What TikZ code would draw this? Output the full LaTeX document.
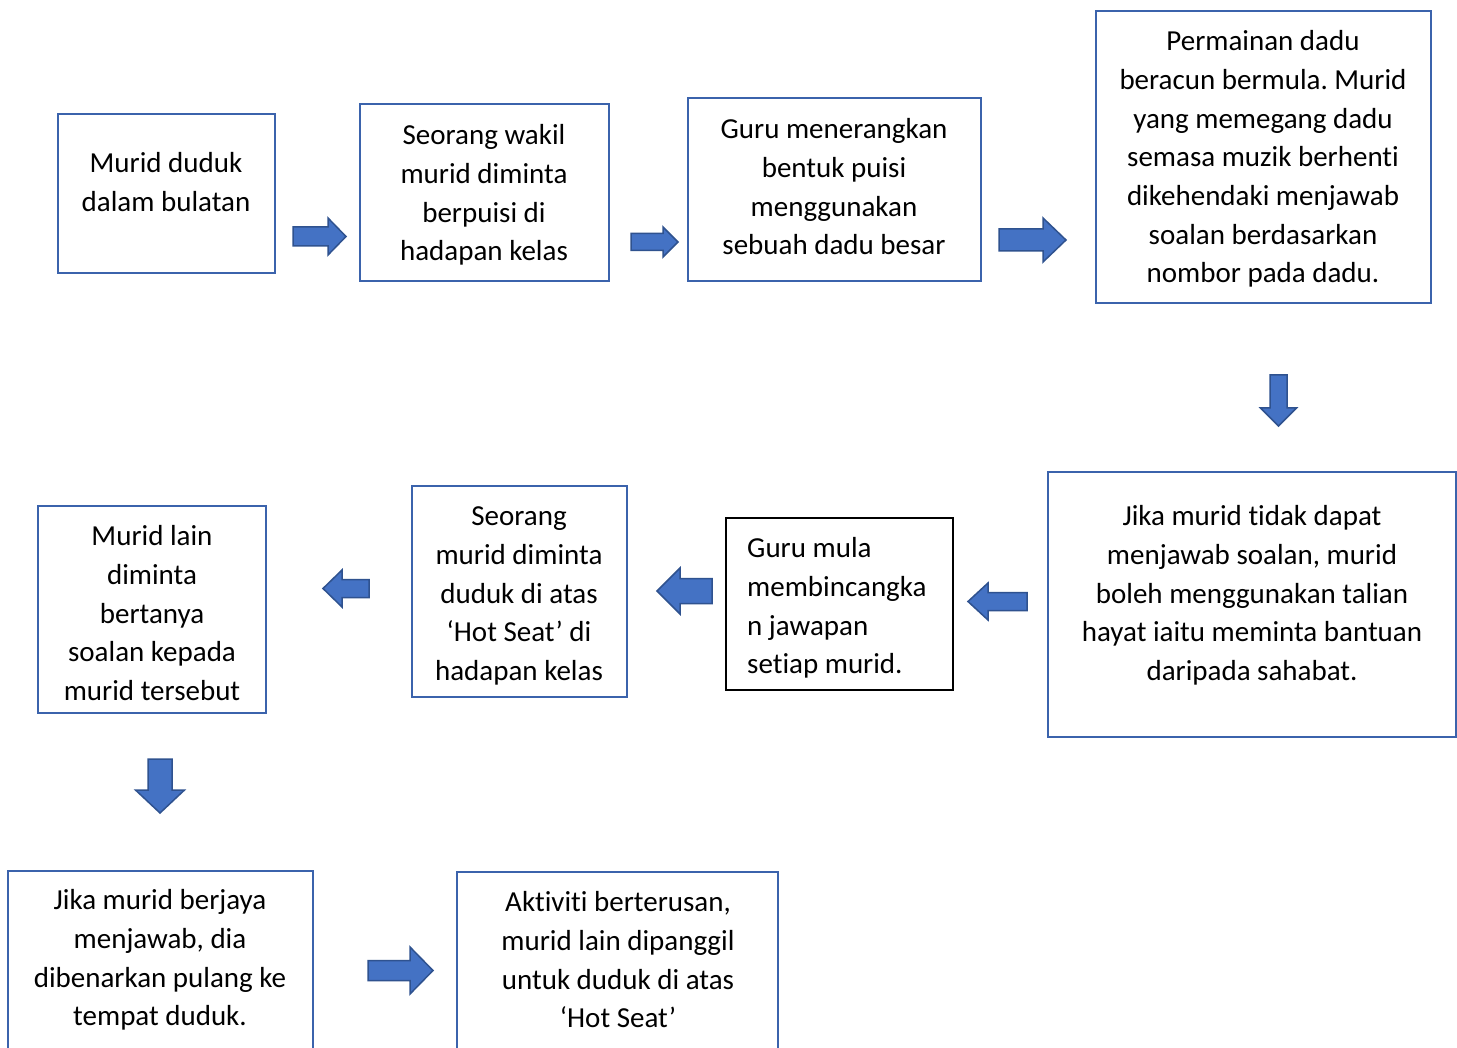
\documentclass[tikz,border=0pt]{standalone}
\usepackage{fontspec}
\setmainfont{Carlito}[Ligatures=NoCommon]
\frenchspacing
\definecolor{boxblue}{HTML}{3B63AC}
\definecolor{arrfill}{HTML}{4472C4}
\definecolor{arrline}{HTML}{2F528F}
\newcommand{\harrow}[6]{% tail x, tip x, head base x, y centre, shaft half, head half
  \draw[arrowshape] ({#1},{#4-#5}) -- ({#3},{#4-#5}) -- ({#3},{#4-#6}) -- ({#2},{#4})
    -- ({#3},{#4+#6}) -- ({#3},{#4+#5}) -- ({#1},{#4+#5}) -- cycle;}
\newcommand{\varrow}[6]{% tail y, tip y, head base y, x centre, shaft half, head half
  \draw[arrowshape] ({#4-#5},{#1}) -- ({#4-#5},{#3}) -- ({#4-#6},{#3}) -- ({#4},{#2})
    -- ({#4+#6},{#3}) -- ({#4+#5},{#3}) -- ({#4+#5},{#1}) -- cycle;}
\begin{document}
\begin{tikzpicture}[x=1pt,y=-1pt,
  box/.style={draw=boxblue, line width=2pt, rectangle, inner sep=0pt, fill=none},
  blackbox/.style={draw=black, line width=1.5pt, rectangle, inner sep=0pt},
  txt/.style={inner sep=0pt, align=center, font=\fontsize{29}{38.67}\selectfont},
  txtl/.style={inner sep=0pt, align=left, font=\fontsize{29}{38.67}\selectfont},
  arrowshape/.style={fill=arrfill, draw=arrline, line width=1.5pt, line join=miter}]
\clip (0,0) rectangle (1457,1048);
\fill[white] (0,0) rectangle (1457,1048);

% boxes
\node[box, minimum width=217, minimum height=159] (b1) at (166.5,193.5) {};
\node[box, minimum width=249, minimum height=177] (b2) at (484.5,192.5) {};
\node[box, minimum width=293, minimum height=183] (b3) at (834.5,189.5) {};
\node[box, minimum width=335, minimum height=292] (b4) at (1263.5,157) {};
\node[box, minimum width=408, minimum height=265] (b5) at (1252,604.5) {};
\node[blackbox, minimum width=227, minimum height=172] (b6) at (839.5,604) {};
\node[box, minimum width=215, minimum height=211] (b7) at (519.5,591.5) {};
\node[box, minimum width=228, minimum height=207] (b8) at (152,609.5) {};
\node[box, minimum width=305, minimum height=189] (b9) at (160.5,965.5) {};
\node[box, minimum width=321, minimum height=188] (b10) at (617.5,966) {};

% texts
\node[txt] (t1) at (166,184.5) {\strut Murid duduk\\\strut dalam bulatan};
\node[txt] (t2) at (484,195) {\strut Seorang wakil\\\strut murid diminta\\\strut berpuisi di\\\strut hadapan kelas};
\node[txt] (t3) at (834,189) {\strut Guru menerangkan\\\strut bentuk puisi\\\strut menggunakan\\\strut sebuah dadu besar};
\node[txt] (t4) at (1263,159) {\strut Permainan dadu\\\strut beracun bermula. Murid\\\strut yang memegang dadu\\\strut semasa muzik berhenti\\\strut dikehendaki menjawab\\\strut soalan berdasarkan\\\strut nombor pada dadu.};
\node[txt] (t5) at (1252,595.5) {\strut Jika murid tidak dapat\\\strut menjawab soalan, murid\\\strut boleh menggunakan talian\\\strut hayat iaitu meminta bantuan\\\strut daripada sahabat.};
\node[txtl, anchor=west] (t6) at (747,608) {\strut Guru mula\\\strut membincangka\\\strut n jawapan\\\strut setiap murid.};
\node[txt] (t7) at (519,595.5) {\strut Seorang\\\strut murid diminta\\\strut duduk di atas\\\strut ‘Hot Seat’ di\\\strut hadapan kelas};
\node[txt] (t8) at (152,615.5) {\strut Murid lain\\\strut diminta\\\strut bertanya\\\strut soalan kepada\\\strut murid tersebut};
\node[txt] (t9) at (160,960) {\strut Jika murid berjaya\\\strut menjawab, dia\\\strut dibenarkan pulang ke\\\strut tempat duduk.};
\node[txt] (t10) at (618,962) {\strut Aktiviti berterusan,\\\strut murid lain dipanggil\\\strut untuk duduk di atas\\\strut ‘Hot Seat’};

% block arrows
\harrow{293}{346}{328}{236.5}{9.5}{18.5}
\harrow{631}{678}{663}{242}{8.5}{15}
\harrow{999}{1066}{1043}{240}{11}{22}
\varrow{375}{426}{408}{1278.5}{8.5}{18}
\harrow{1027}{968}{988}{601.5}{9}{18.5}
\harrow{712}{657}{680}{591}{12.5}{23}
\harrow{369}{323}{342}{588.5}{9}{18.5}
\varrow{759}{813}{790}{160}{12}{24.5}
\harrow{368}{433}{410}{970.5}{10}{23.5}
\end{tikzpicture}
\end{document}
